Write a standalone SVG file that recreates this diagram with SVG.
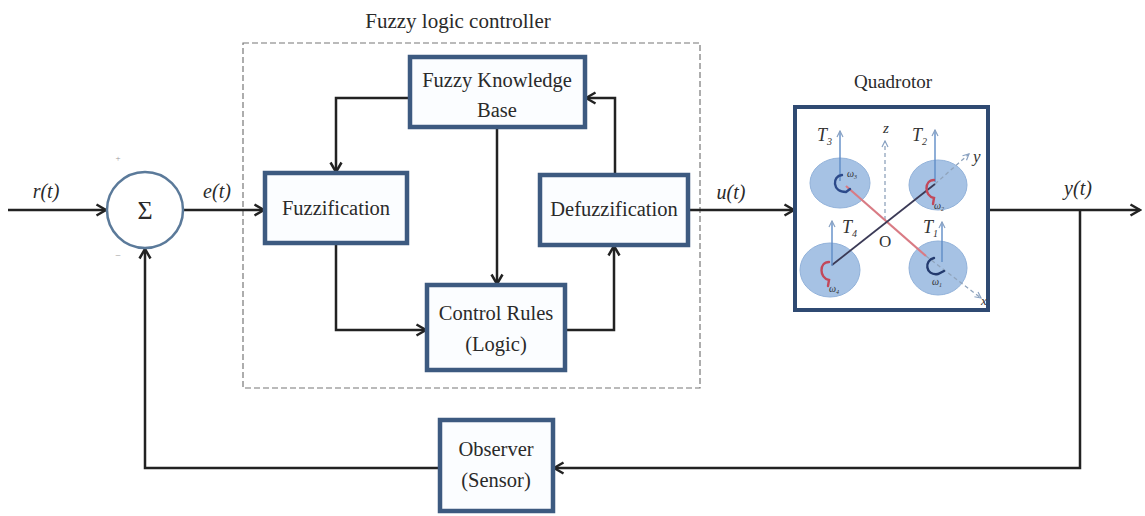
<svg xmlns="http://www.w3.org/2000/svg" width="1145" height="516" viewBox="0 0 1145 516">
  <defs>
    <style>
      .box{fill:#fbfdff;stroke:#3d5a80;stroke-width:4.5}
      .lbl{font-family:"Liberation Serif","Times New Roman",serif;font-size:20.5px;fill:#2a2a2a;text-anchor:middle}
      .sig{font-family:"Liberation Serif","Times New Roman",serif;font-style:italic;font-size:20px;fill:#2a2a2a;text-anchor:middle}
      .wire{fill:none;stroke:#222;stroke-width:2.5;marker-end:url(#arr)}
      .disc{fill:#a6c2e4;stroke:#92b2da;stroke-width:1}
      .thrust{fill:none;stroke:#5f8cc6;stroke-width:1.4;marker-end:url(#tip)}
      .axis{fill:none;stroke:#90a4bc;stroke-width:1.3;stroke-dasharray:4 3;marker-end:url(#tip)}
      .qtxt{font-family:"Liberation Serif","Times New Roman",serif;font-style:italic;fill:#333}
      .spin{fill:none;stroke-width:2.4;stroke-linecap:round}
    </style>
    <marker id="arr" markerUnits="userSpaceOnUse" markerWidth="14" markerHeight="14" viewBox="0 0 14 14" refX="12.5" refY="7" orient="auto">
      <path d="M3,1.5 L12.5,7 L3,12.5" fill="none" stroke="#222" stroke-width="2.5"/>
    </marker>
    <marker id="tip" markerUnits="userSpaceOnUse" markerWidth="8" markerHeight="8" viewBox="0 0 8 8" refX="7" refY="4" orient="auto">
      <path d="M1,1 L7,4 L1,7" fill="none" stroke="#8aa2c2" stroke-width="1.2"/>
    </marker>
  </defs>

  <rect width="1145" height="516" fill="#ffffff"/>

  <!-- controller boundary -->
  <g id="flc">
    <rect x="243" y="43" width="457" height="345" fill="none" stroke="#777" stroke-width="1.2" stroke-dasharray="6 3"/>
    <text class="lbl" x="458" y="28" style="font-size:21px">Fuzzy logic controller</text>
  </g>

  <!-- connectors -->
  <g id="connectors">
    <path class="wire" d="M8,210 H106"/>
    <path class="wire" d="M183,210 H264"/>
    <path class="wire" d="M410,98 H336 V172"/>
    <path class="wire" d="M615,174 V98 H586"/>
    <path class="wire" d="M497,128 V284"/>
    <path class="wire" d="M336,244 V330 H426"/>
    <path class="wire" d="M566,330 H614 V246"/>
    <path class="wire" d="M689,210 H794"/>
    <path class="wire" d="M989,210 H1140"/>
    <path class="wire" d="M1080,210 V468 H554"/>
    <path class="wire" d="M440,468 H145 V249"/>
    <text class="sig" x="46" y="198">r(t)</text>
    <text class="sig" x="217" y="198">e(t)</text>
    <text class="sig" x="731" y="199">u(t)</text>
    <text class="sig" x="1078" y="195">y(t)</text>
  </g>

  <!-- summing junction -->
  <g id="sum">
    <circle cx="145" cy="210" r="38" fill="#ffffff" stroke="#5b7a9a" stroke-width="2.5"/>
    <text class="lbl" x="145" y="219" style="font-size:26px">Σ</text>
    <text class="lbl" x="118" y="161" style="font-size:9px;fill:#999">+</text>
    <text class="lbl" x="118" y="259" style="font-size:10px;fill:#999">−</text>
  </g>

  <g id="fuzzification">
    <rect class="box" x="265" y="173" width="142" height="70"/>
    <text class="lbl" x="336" y="215">Fuzzification</text>
  </g>

  <g id="knowledge-base">
    <rect class="box" x="410" y="57" width="175" height="70"/>
    <text class="lbl" x="497" y="87">Fuzzy Knowledge</text>
    <text class="lbl" x="497" y="117">Base</text>
  </g>

  <g id="control-rules">
    <rect class="box" x="427" y="285" width="138" height="85"/>
    <text class="lbl" x="496" y="320">Control Rules</text>
    <text class="lbl" x="496" y="351">(Logic)</text>
  </g>

  <g id="defuzzification">
    <rect class="box" x="540" y="175" width="148" height="70"/>
    <text class="lbl" x="614" y="216">Defuzzification</text>
  </g>

  <g id="observer">
    <rect class="box" x="440" y="420" width="113" height="91"/>
    <text class="lbl" x="496" y="456">Observer</text>
    <text class="lbl" x="496" y="487">(Sensor)</text>
  </g>

  <!-- plant: quadrotor sketch -->
  <g id="quadrotor">
    <text class="lbl" x="893" y="88" style="font-size:19px">Quadrotor</text>
    <rect x="795" y="107" width="193" height="203" fill="#ffffff" stroke="#2f4a72" stroke-width="4"/>
    <ellipse class="disc" cx="840" cy="183" rx="30" ry="25"/>
    <ellipse class="disc" cx="938" cy="185" rx="29" ry="25"/>
    <ellipse class="disc" cx="830" cy="270" rx="30" ry="27"/>
    <ellipse class="disc" cx="938" cy="268" rx="29" ry="27"/>
    <!-- axes -->
    <path class="axis" d="M885,220 V141"/>
    <path class="axis" d="M935,184 L969,154"/>
    <path class="axis" d="M926,256 L981,298"/>
    <!-- arms -->
    <path d="M846,186 L926,256" stroke="#d97b84" stroke-width="2.2" fill="none"/>
    <path d="M832,265 L935,184" stroke="#3b3a56" stroke-width="1.8" fill="none"/>
    <!-- thrust vectors -->
    <path class="thrust" d="M840,181 V131"/>
    <path class="thrust" d="M935,182 V130"/>
    <path class="thrust" d="M832,266 V221"/>
    <path class="thrust" d="M942,262 V222"/>
    <!-- rotor spin -->
    <path class="spin" stroke="#2c4a8a" d="M842,175 C832,176 832,192 846,192 L850,189"/>
    <path class="spin" stroke="#c2485a" d="M934,180 C924,180 924,196 934,198 L933,204"/>
    <path class="spin" stroke="#c2485a" d="M829,262 C819,262 819,278 829,280 L828,286"/>
    <path class="spin" stroke="#233a6e" d="M934,258 C924,260 925,276 938,274 L944,271"/>
    <!-- labels -->
    <text class="qtxt" x="817" y="141" font-size="18">T<tspan font-size="10" dy="4">3</tspan></text>
    <text class="qtxt" x="912" y="141" font-size="18">T<tspan font-size="10" dy="4">2</tspan></text>
    <text class="qtxt" x="842" y="233" font-size="18">T<tspan font-size="10" dy="4">4</tspan></text>
    <text class="qtxt" x="923" y="233" font-size="18">T<tspan font-size="10" dy="4">1</tspan></text>
    <text class="qtxt" x="883" y="133" font-size="15">z</text>
    <text class="qtxt" x="973" y="162" font-size="17">y</text>
    <text class="qtxt" x="981" y="305" font-size="13">x</text>
    <text x="879" y="247" font-family="Liberation Serif, serif" font-size="17" fill="#333">O</text>
    <text class="qtxt" x="847" y="177" font-size="10">ω<tspan font-size="6" dy="2">3</tspan></text>
    <text class="qtxt" x="934" y="209" font-size="10">ω<tspan font-size="6" dy="2">2</tspan></text>
    <text class="qtxt" x="829" y="292" font-size="10">ω<tspan font-size="6" dy="2">4</tspan></text>
    <text class="qtxt" x="932" y="285" font-size="10">ω<tspan font-size="6" dy="2">1</tspan></text>
  </g>
</svg>
